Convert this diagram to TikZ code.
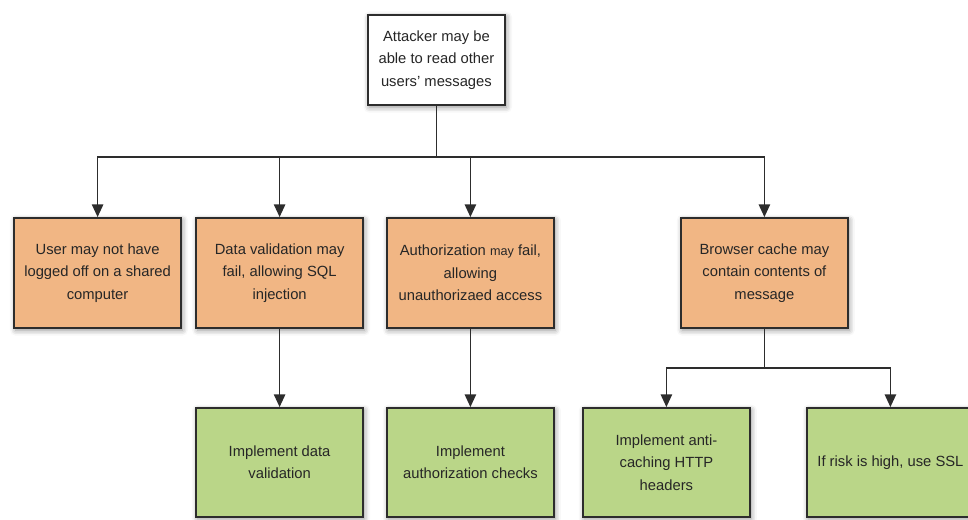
\documentclass[tikz,border=0pt]{standalone}
\usepackage{fontspec}
\setmainfont{Liberation Sans}
\usetikzlibrary{arrows.meta,shadows.blur}

\definecolor{riskfill}{RGB}{241,182,132}
\definecolor{fixfill}{RGB}{186,214,136}
\definecolor{edge}{RGB}{45,45,45}

\tikzset{
  box/.style={draw=edge, line width=1.3pt, align=center, text=black!85,
    minimum width=4.17cm, minimum height=2.75cm,
    font=\fontsize{10.5}{16}\selectfont,
    blur shadow={shadow xshift=1pt, shadow yshift=-1.5pt, shadow blur radius=4pt, shadow opacity=45}},
  goal/.style={box, fill=white, minimum width=3.43cm, minimum height=2.25cm},
  risk/.style={box, fill=riskfill},
  fix/.style={box, fill=fixfill, minimum height=2.72cm},
  link/.style={draw=edge, line width=1.2pt, -{Triangle[length=9pt,width=8pt]}},
  bus/.style={draw=edge, line width=1.2pt},
}

\begin{document}
\begin{tikzpicture}
\useasboundingbox (0,0) rectangle (24.2,-12.975);

\node[goal] (top) at (10.91,-1.5) {Attacker may be\\able to read other\\users' messages};

\node[risk] (a) at (2.44,-6.825) {User may not have\\logged off on a shared\\computer};
\node[risk] (b) at (6.99,-6.825) {Data validation may\\fail, allowing SQL\\injection};
\node[risk] (c) at (11.76,-6.825) {Authorization {\fontsize{9}{16}\selectfont may} fail,\\allowing\\unauthorizaed access};
\node[risk] (d) at (19.11,-6.825) {Browser cache may\\contain contents of\\message};

\node[fix] (e) at (6.99,-11.56) {Implement data\\validation};
\node[fix] (f) at (11.76,-11.56) {Implement\\authorization checks};
\node[fix] (g) at (16.66,-11.56) {Implement anti-\\caching HTTP\\headers};
\node[fix] (h) at (22.26,-11.56) {If risk is high, use SSL};

% first branching
\coordinate (j1) at (top.south |- 0,-3.925);
\draw[bus] (top.south) -- (j1);
\draw[link] (j1) -| (a.north);
\draw[link] (j1) -| (b.north);
\draw[link] (j1) -| (c.north);
\draw[link] (j1) -| (d.north);

% counter measures
\draw[link] (b.south) -- (e.north);
\draw[link] (c.south) -- (f.north);
\coordinate (j2) at (d.south |- 0,-9.2);
\draw[bus] (d.south) -- (j2);
\draw[link] (j2) -| (g.north);
\draw[link] (j2) -| (h.north);
\end{tikzpicture}
\end{document}
